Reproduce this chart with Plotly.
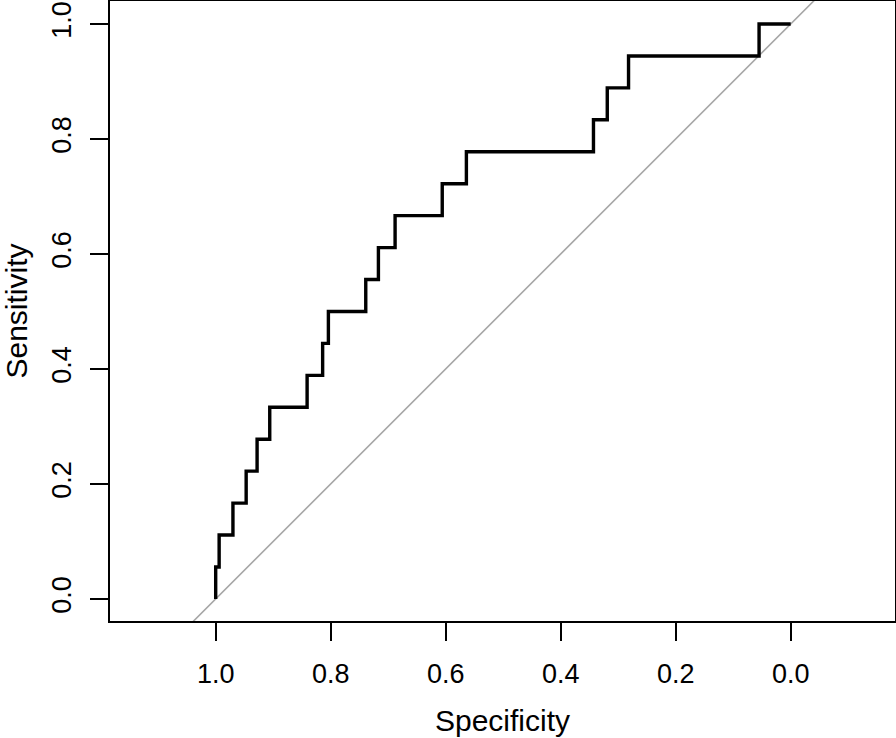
import plotly.graph_objects as go

# ROC curve corners (specificity, sensitivity)
specificity = [1.000, 0.994, 0.970, 0.947, 0.928, 0.906, 0.841, 0.814, 0.804, 0.739,
               0.717, 0.688, 0.606, 0.564, 0.343, 0.319, 0.282, 0.055, 0.000]
sensitivity = [0/18, 1/18, 2/18, 3/18, 4/18, 5/18, 6/18, 7/18, 8/18, 9/18,
               10/18, 11/18, 12/18, 13/18, 14/18, 15/18, 16/18, 17/18, 18/18]

# identity line (chance), extended past the plot edges
diag_spec = [1.3, -0.3]
diag_sens = [-0.3, 1.3]

tick_vals = [0.0, 0.2, 0.4, 0.6, 0.8, 1.0]
tick_text = ["0.0", "0.2", "0.4", "0.6", "0.8", "1.0"]

fig = go.Figure()
fig.add_trace(go.Scatter(x=diag_spec, y=diag_sens, mode="lines",
                         line=dict(color="#a6a6a6", width=1.6), hoverinfo="skip"))
fig.add_trace(go.Scatter(x=specificity, y=sensitivity, mode="lines",
                         line=dict(color="black", width=3.4, shape="vh")))

fnt = "Liberation Sans, Arial, Helvetica, sans-serif"
fig.update_layout(
    width=896, height=738,
    margin=dict(l=110, r=1, t=1, b=117),
    plot_bgcolor="white", paper_bgcolor="white",
    showlegend=False,
    font=dict(family=fnt, color="black", size=27),
)
fig.update_xaxes(range=[1.1838, -0.1814], tickvals=tick_vals, ticktext=tick_text,
                 showgrid=False, zeroline=False, showline=True, mirror=True,
                 linecolor="black", linewidth=1.5, ticks="outside", ticklen=18,
                 tickwidth=1.5, tickcolor="black", tickfont=dict(size=27),
                 ticklabelstandoff=10, automargin=False,
                 title=dict(text="Specificity", font=dict(size=30), standoff=22))
fig.update_yaxes(range=[-0.0384, 1.04], tickvals=tick_vals, ticktext=tick_text,
                 showgrid=False, zeroline=False, showline=True, mirror=True,
                 linecolor="black", linewidth=1.5, ticks="outside", ticklen=18,
                 tickwidth=1.5, tickcolor="black", tickangle=-90,
                 tickfont=dict(size=27), ticklabelstandoff=8, automargin=False,
                 title=dict(text="Sensitivity", font=dict(size=30), standoff=16))

# drop the page's default body margin so the figure sits at the window corner
fig.write_html("out.html", config={"displayModeBar": False},
               post_script="document.body.style.margin='0';")
